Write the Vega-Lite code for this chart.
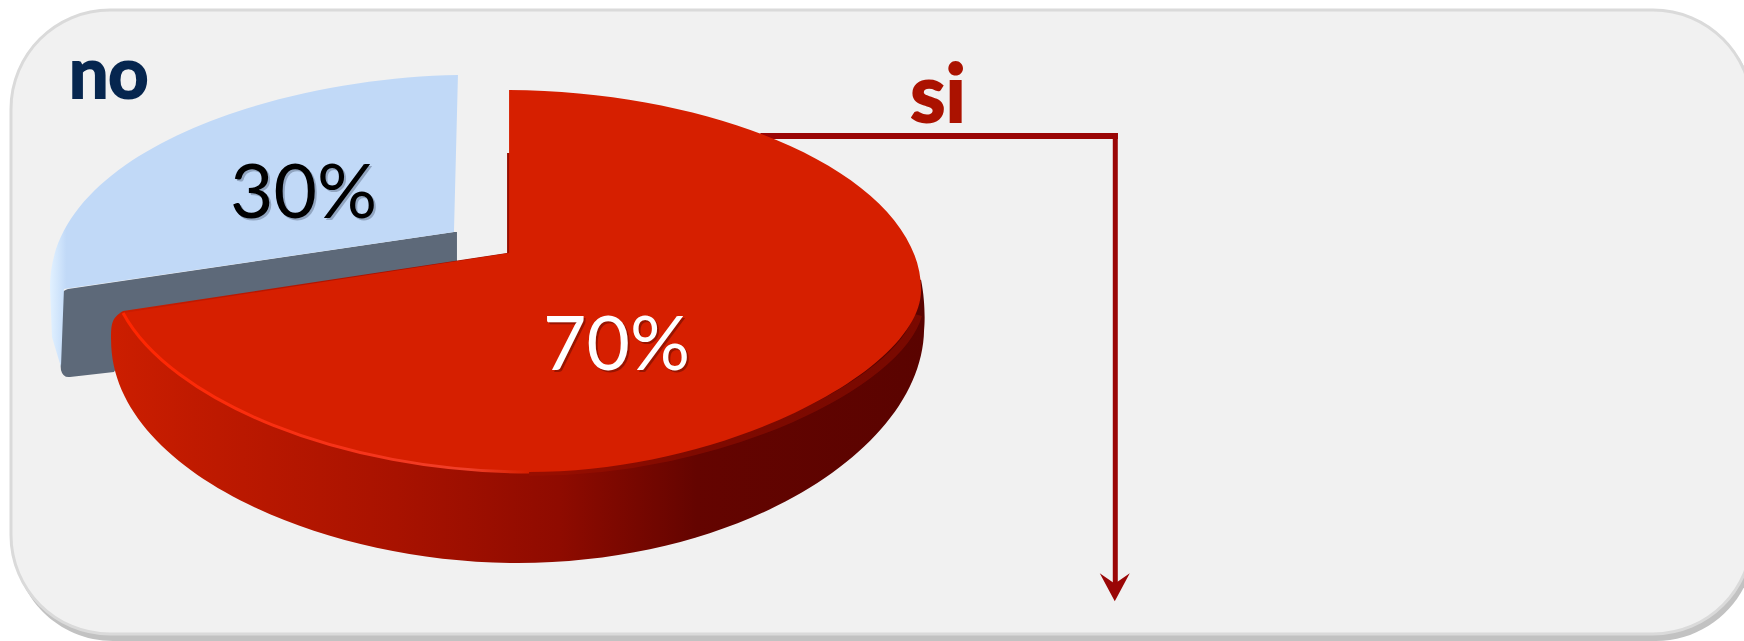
{
  "$schema": "https://vega.github.io/schema/vega-lite/v6.json",
  "width": 1744, "height": 641, "padding": 0,
  "autosize": {"type": "none"},
  "background": "#ffffff",
  "config": {"view": {"stroke": null}, "axis": {"disable": true}},
  "data": {"values": [
    {"answer": "si", "share": 70, "label": "70%"},
    {"answer": "no", "share": 30, "label": "30%"}
  ]},
  "layer": [
    {"transform": [{"filter": "datum.answer == 'si'"}],
     "mark": {"type": "rect", "fill": "#c2c2c2", "cornerRadius": 99},
     "encoding": {
       "x": {"datum": 0.8, "type": "quantitative", "scale": {"domain": [0, 100]}},
       "x2": {"datum": 100.63},
       "y": {"datum": 2.03, "type": "quantitative", "scale": {"domain": [0, 100], "reverse": true}},
       "y2": {"datum": 100}}},
    {"transform": [{"filter": "datum.answer == 'si'"}],
     "mark": {"type": "rect", "fill": "#f1f1f1", "stroke": "#dadada", "strokeWidth": 3, "cornerRadius": 99},
     "encoding": {"x": {"datum": 0.63, "type": "quantitative"}, "x2": {"datum": 100.46}, "y": {"datum": 1.56, "type": "quantitative"}, "y2": {"datum": 98.9}}},
    {"transform": [{"filter": "datum.answer == 'si'"}],
     "mark": {"type": "rule", "stroke": "#9a0606", "strokeWidth": 6},
     "encoding": {"x": {"datum": 43.6, "type": "quantitative"}, "x2": {"datum": 64.1}, "y": {"datum": 21.2, "type": "quantitative"}}},
    {"transform": [{"filter": "datum.answer == 'si'"}],
     "mark": {"type": "rule", "stroke": "#9a0606", "strokeWidth": 5},
     "encoding": {"x": {"datum": 63.95, "type": "quantitative"}, "y": {"datum": 20.75, "type": "quantitative"}, "y2": {"datum": 91.5}}},
    {"transform": [{"filter": "datum.answer == 'si'"}],
     "mark": {"type": "point", "filled": true, "opacity": 1, "size": 4, "fill": "#9a0606", "stroke": null,
              "shape": "M0,0 L-15,-28 L-2,-19 L2,-19 L15,-28 Z"},
     "encoding": {"x": {"datum": 63.92, "type": "quantitative"}, "y": {"datum": 93.8, "type": "quantitative"}}},
    {"transform": [{"filter": "datum.answer == 'no'"}],
     "mark": {"type": "point", "filled": true, "opacity": 1, "size": 4, "fill": "#5d6979", "stroke": null,
              "shape": "M0,0 L-386,57 Q-396,60 -398,75 L-393,138 Q-391,146 -384,145 L-340,140 L-300,78 L3,30 L3,0 Z"},
     "encoding": {"x": {"datum": 26.03, "type": "quantitative"}, "y": {"datum": 36.19, "type": "quantitative"}}},
    {"transform": [{"filter": "datum.answer == 'no'"}],
     "mark": {"type": "point", "filled": true, "opacity": 1, "size": 4, "stroke": null,
              "fill": {"gradient": "linear", "x1": 0, "y1": 0, "x2": 1, "y2": 0,
                       "stops": [{"offset": 0, "color": "#e2f1ff"}, {"offset": 0.02, "color": "#d2e6fc"}, {"offset": 0.04, "color": "#c1d9f7"}, {"offset": 1, "color": "#c1d9f7"}]},
              "shape": "M4,-157 C-174,-154 -404,-82 -404,55 L-402,105 L-393,135 L-390,57 L0,0 Z"},
     "encoding": {"x": {"datum": 26.03, "type": "quantitative"}, "y": {"datum": 36.19, "type": "quantitative"}}},
    {"transform": [{"filter": "datum.answer == 'si'"}],
     "mark": {"type": "point", "filled": true, "opacity": 1, "size": 4, "stroke": null,
              "fill": {"gradient": "linear", "x1": 0, "y1": 0, "x2": 1, "y2": 0,
                       "stops": [{"offset": 0, "color": "#cc1e00"}, {"offset": 0.1, "color": "#c01a00"}, {"offset": 0.35, "color": "#a81200"}, {"offset": 0.55, "color": "#8f0b00"}, {"offset": 0.72, "color": "#640400"}, {"offset": 1, "color": "#5a0300"}]},
              "shape": "M412,27 C416,47 416,67 415,77 C413,197 231,310 9,310 C-189,310 -398,217 -398,87 C-398,72 -398,65 -386,58 L-2,0 L-2,-100 L0,-100 Z"},
     "encoding": {"x": {"datum": 29.19, "type": "quantitative"}, "y": {"datum": 39.47, "type": "quantitative"}}},
    {"transform": [{"filter": "datum.answer == 'si'"}],
     "mark": {"type": "point", "filled": false, "opacity": 0.45, "size": 4, "strokeWidth": 8, "stroke": "#a01200",
              "shape": "M409,62 C390,130 216,219 20,219"},
     "encoding": {"x": {"datum": 29.19, "type": "quantitative"}, "y": {"datum": 39.47, "type": "quantitative"}}},
    {"transform": [{"filter": "datum.answer == 'si'"}],
     "mark": {"type": "point", "filled": true, "opacity": 1, "size": 4, "fill": "#d61f00", "stroke": null,
              "shape": "M0,-163 C221,-161 412,-73 412,37 C412,117 216,219 20,219 C-169,219 -339,147 -386,60 L0,0 Z"},
     "encoding": {"x": {"datum": 29.19, "type": "quantitative"}, "y": {"datum": 39.47, "type": "quantitative"}}},
    {"transform": [{"filter": "datum.answer == 'si'"}],
     "mark": {"type": "point", "filled": false, "opacity": 1, "size": 4, "strokeWidth": 3,
              "stroke": {"gradient": "linear", "x1": 0, "y1": 0, "x2": 1, "y2": 0,
                         "stops": [{"offset": 0, "color": "#ff2600"}, {"offset": 0.6, "color": "#f5351c"}, {"offset": 0.85, "color": "#f0402a"}, {"offset": 1, "color": "#d61f00"}]},
              "shape": "M-386,60 C-339,147 -169,219 20,219"},
     "encoding": {"x": {"datum": 29.19, "type": "quantitative"}, "y": {"datum": 39.47, "type": "quantitative"}}},
    {"transform": [{"filter": "datum.answer == 'no'"}],
     "mark": {"type": "text", "font": "Lato", "fontWeight": "bold", "fontSize": 70, "align": "left", "baseline": "alphabetic", "fill": "#06264f", "stroke": "#06264f", "strokeWidth": 2},
     "encoding": {"text": {"field": "answer"}, "x": {"datum": 3.95, "type": "quantitative"}, "y": {"datum": 15.29, "type": "quantitative"}}},
    {"transform": [{"filter": "datum.answer == 'si'"}],
     "mark": {"type": "text", "font": "Lato", "fontWeight": "bold", "fontSize": 80, "align": "left", "baseline": "alphabetic", "fill": "#ab1200", "stroke": "#ab1200", "strokeWidth": 2},
     "encoding": {"text": {"field": "answer"}, "x": {"datum": 52.2, "type": "quantitative"}, "y": {"datum": 19.03, "type": "quantitative"}}},
    {"transform": [{"filter": "datum.answer == 'no'"}],
     "mark": {"type": "text", "font": "Lato", "fontSize": 75, "align": "left", "baseline": "alphabetic", "fill": "#4a5870", "dx": 2, "dy": 2, "opacity": 0.4},
     "encoding": {"text": {"field": "label"}, "x": {"datum": 13.19, "type": "quantitative"}, "y": {"datum": 34.01, "type": "quantitative"}}},
    {"transform": [{"filter": "datum.answer == 'no'"}],
     "mark": {"type": "text", "font": "Lato", "fontSize": 75, "align": "left", "baseline": "alphabetic", "fill": "#000000"},
     "encoding": {"text": {"field": "label"}, "x": {"datum": 13.19, "type": "quantitative"}, "y": {"datum": 34.01, "type": "quantitative"}}},
    {"transform": [{"filter": "datum.answer == 'si'"}],
     "mark": {"type": "text", "font": "Lato", "fontSize": 75, "align": "left", "baseline": "alphabetic", "fill": "#5a0a00", "dx": 2, "dy": 2, "opacity": 0.5},
     "encoding": {"text": {"field": "label"}, "x": {"datum": 31.14, "type": "quantitative"}, "y": {"datum": 57.72, "type": "quantitative"}}},
    {"transform": [{"filter": "datum.answer == 'si'"}],
     "mark": {"type": "text", "font": "Lato", "fontSize": 75, "align": "left", "baseline": "alphabetic", "fill": "#ffffff"},
     "encoding": {"text": {"field": "label"}, "x": {"datum": 31.14, "type": "quantitative"}, "y": {"datum": 57.72, "type": "quantitative"}}}
  ]
}
